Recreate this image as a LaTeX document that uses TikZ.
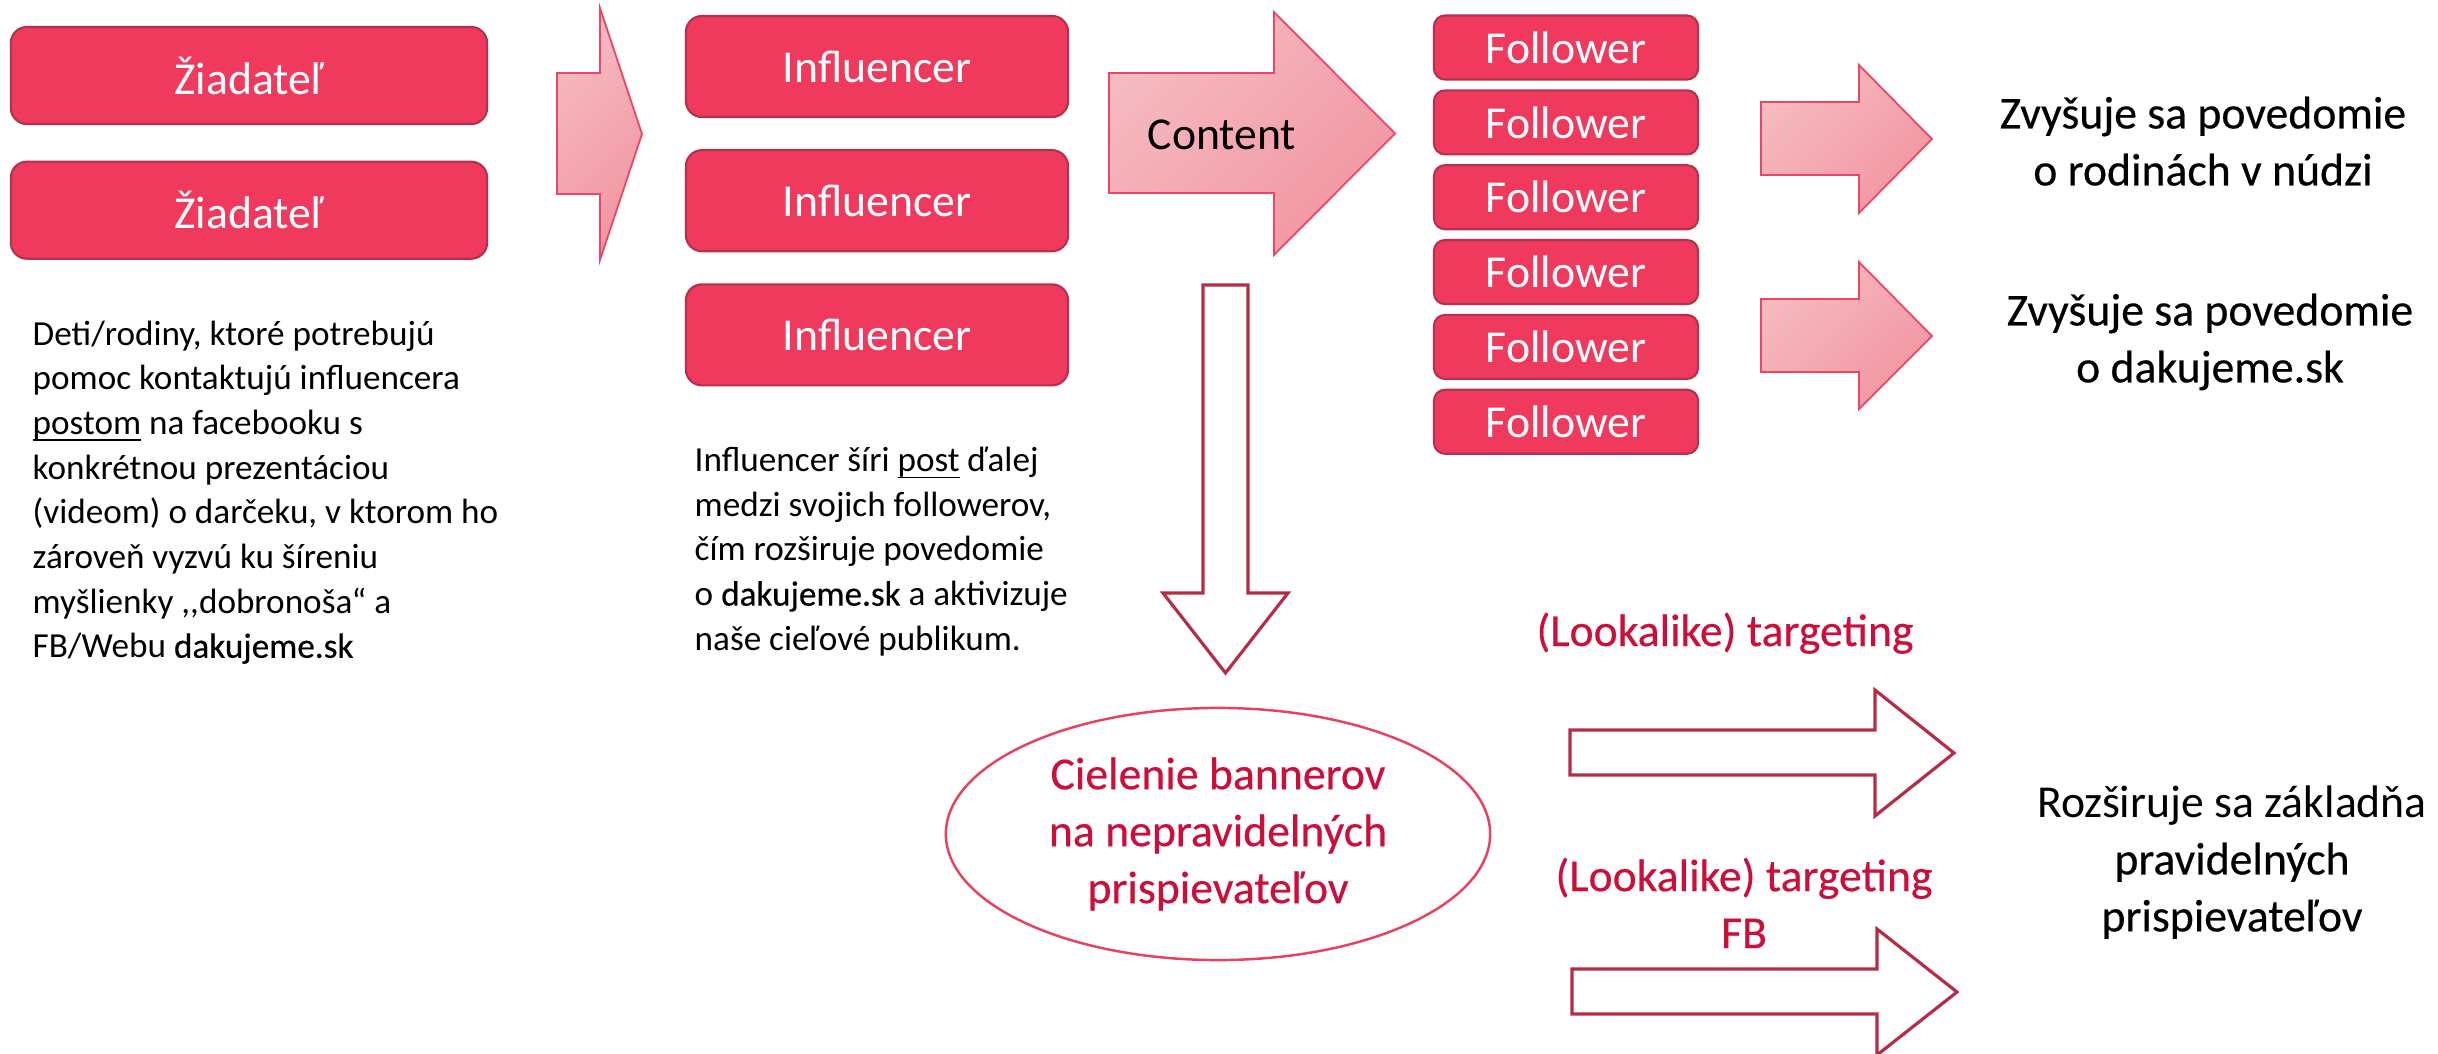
\documentclass[tikz,border=0pt]{standalone}
\usepackage{fontspec}
\setmainfont{Carlito}
\newfontfamily\regfont{Carlito}[FakeBold=0.4]
\usepackage{tikz}
\usetikzlibrary{shapes.geometric}
\usetikzlibrary{positioning,calc}

\definecolor{boxred}{HTML}{EF3A5E}
\definecolor{boxedge}{HTML}{B5304F}
\definecolor{pinklight}{HTML}{F6BAC1}
\definecolor{pinkdark}{HTML}{F296A2}
\definecolor{pinkedge}{HTML}{EC4565}
\definecolor{darkedge}{HTML}{B52C47}
\definecolor{ellipseedge}{HTML}{E8415F}
\definecolor{textred}{HTML}{CC0E3A}

\newcommand{\postline}[1]{\setbox0=\hbox{#1}\rlap{\rule[-0.19em]{\wd0}{0.05em}}#1}

\begin{document}
\begin{tikzpicture}[x=0.01cm,y=-0.01cm]
 \coordinate (origo) at (0,0);
 \useasboundingbox (origo) rectangle (2438,1054);

\tikzstyle{redbox}=[draw=boxedge,line width=0.6pt,fill=boxred,text=white,rounded corners=0.16cm,inner sep=0pt,font=\fontsize{13}{16}\selectfont]
\tikzstyle{followerbox}=[redbox,rounded corners=0.11cm,minimum width=2.64cm,minimum height=0.64cm]
\tikzstyle{pinkarrow}=[draw=pinkedge,line width=0.5pt,top color=pinklight,bottom color=pinkdark,shading angle=45]
\tikzstyle{whitearrow}=[draw=darkedge,line width=0.9pt,fill=white]
\tikzstyle{bodytext}=[align=left,inner sep=0pt,font=\fontsize{10}{12.7}\selectfont]
\tikzstyle{bigtext}=[align=center,inner sep=0pt,font=\regfont\fontsize{13}{16.2}\selectfont]

   %applicants
   \node (ziad_1) [redbox,minimum width=4.76cm,minimum height=0.97cm] at (249,75.5) {Žiadateľ};
   \node (ziad_2) [redbox,minimum width=4.76cm,minimum height=0.97cm,below=0.355cm of ziad_1] {Žiadateľ};

   \node (ziad_text) [bodytext,anchor=north west] at (32,320) {Deti/rodiny, ktoré potrebujú\\pomoc kontaktujú influencera\\\postline{postom} na facebooku s\\konkrétnou prezentáciou\\(videom) o darčeku, v ktorom ho\\zároveň vyzvú ku šíreniu\\myšlienky ,\kern0pt,dobronoša“ a\\FB/Webu {\regfont dakujeme.sk}};

   \draw[pinkarrow] (557,73) -- (600,73) -- (600,8) -- (642,134) -- (600,260) -- (600,194) -- (557,194) -- cycle;

   %influencers
   \node (infl_1) [redbox,minimum width=3.82cm,minimum height=1.01cm] at (877,66.5) {Influencer};
   \node (infl_2) [redbox,minimum width=3.82cm,minimum height=1.01cm,below=0.31cm of infl_1] {Influencer};
   \node (infl_3) [redbox,minimum width=3.82cm,minimum height=1.01cm,below=0.31cm of infl_2] {Influencer};

   \node (infl_text) [bodytext,anchor=north west] at (694,446.5) {Influencer šíri \postline{post} ďalej\\medzi svojich followerov,\\čím rozširuje povedomie\\o {\regfont dakujeme.sk} a aktivizuje\\naše cieľové publikum.};

   \draw[pinkarrow] (1109,73) -- (1274,73) -- (1274,12) -- (1395,133.5) -- (1274,255) -- (1274,193) -- (1109,193) -- cycle;
   \node (content_label) [anchor=base west,inner sep=0pt,font=\fontsize{13}{16}\selectfont] at (1147,149) {Content};

   %followers
   \node (fol_1) [followerbox] at (1566,47.5) {Follower};
   \node (fol_2) [followerbox,below=0.087cm of fol_1] {Follower};
   \node (fol_3) [followerbox,below=0.087cm of fol_2] {Follower};
   \node (fol_4) [followerbox,below=0.087cm of fol_3] {Follower};
   \node (fol_5) [followerbox,below=0.087cm of fol_4] {Follower};
   \node (fol_6) [followerbox,below=0.087cm of fol_5] {Follower};

   \draw[pinkarrow] (1761,102) -- (1859,102) -- (1859,65) -- (1932,139) -- (1859,213) -- (1859,175) -- (1761,175) -- cycle;
   \draw[pinkarrow] (1761,299) -- (1859,299) -- (1859,262) -- (1932,336) -- (1859,409) -- (1859,372) -- (1761,372) -- cycle;

   \node (aware_1) [bigtext,anchor=north] at (2203,96) {Zvyšuje sa povedomie\\o rodinách v núdzi};
   \node (aware_2) [bigtext,anchor=north] at (2210,293) {Zvyšuje sa povedomie\\o dakujeme.sk};

   %targeting
   \draw[whitearrow] (1203,285) -- (1248,285) -- (1248,593) -- (1288,593) -- (1225.5,673) -- (1163,593) -- (1203,593) -- cycle;

   \node (cielenie) [ellipse,draw=ellipseedge,line width=0.7pt,minimum width=5.44cm,minimum height=2.52cm,align=center,text=textred,font=\regfont\fontsize{13}{16.2}\selectfont] at (1218,834) {Cielenie bannerov\\na nepravidelných\\prispievateľov};

   \node (look_1) [bigtext,text=textred,anchor=base] at (1725,646) {(Lookalike) targeting};
   \draw[whitearrow] (1570,730) -- (1875,730) -- (1875,690) -- (1954,753) -- (1875,816) -- (1875,775) -- (1570,775) -- cycle;

   \node (look_2) [bigtext,text=textred,anchor=north] at (1744,857) {(Lookalike) targeting\\FB};
   \draw[whitearrow] (1572,969) -- (1877,969) -- (1877,929) -- (1957,992) -- (1877,1055) -- (1877,1014) -- (1572,1014) -- cycle;

   \node (base_text) [align=center,inner sep=0pt,font=\fontsize{13}{16.2}\selectfont,anchor=north] at (2232,785) {Rozširuje sa základňa\\{\regfont pravidelných}\\{\regfont prispievateľov}};

\end{tikzpicture}
\end{document}
